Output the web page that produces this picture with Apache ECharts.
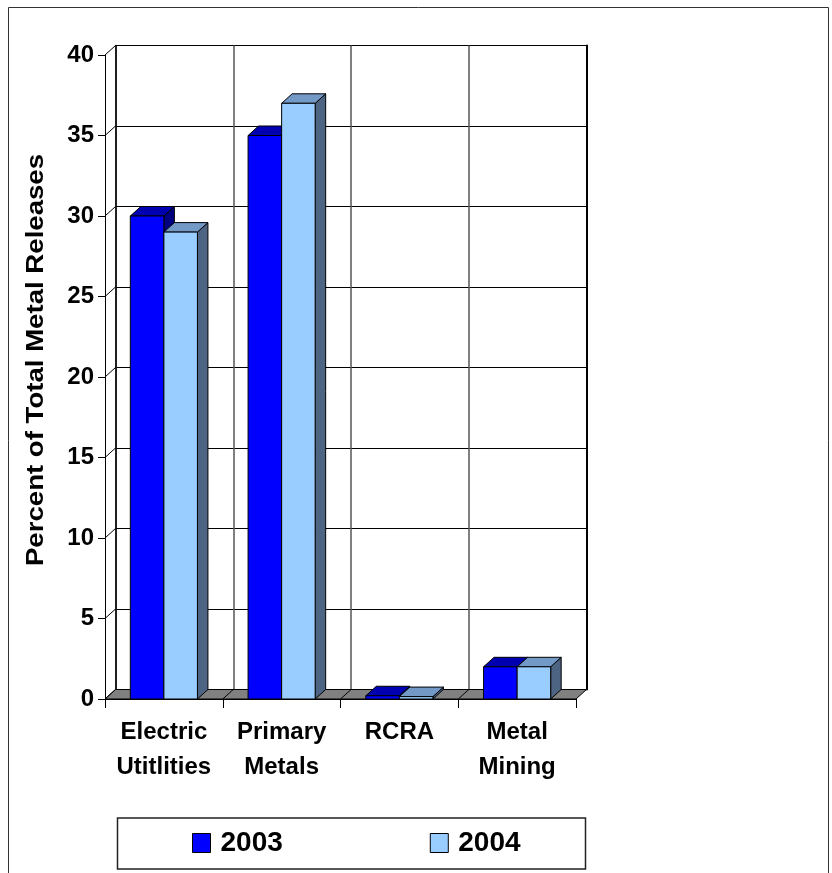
<!DOCTYPE html>
<html><head><meta charset="utf-8">
<script src="https://cdn.jsdelivr.net/npm/echarts@6/dist/echarts.min.js"></script>
<style>html,body{margin:0;padding:0;background:#fff}#c{width:832px;height:873px}</style>
</head><body><div id="c"></div>
<script>
// ---- data ----
const categories = ['Electric\nUtitlities', 'Primary\nMetals', 'RCRA', 'Metal\nMining'];
const years = ['2003', '2004'];
const values2003 = [30, 35, 0.2, 2];
const values2004 = [29, 37, 0.15, 2];
const yTickValues = [0, 5, 10, 15, 20, 25, 30, 35, 40];
const yMin = 0, yMax = 40, yStep = 5;
const yTitle = 'Percent of Total Metal Releases';

// ---- style ----
const FONT = '"Liberation Sans", Arial, sans-serif';
const DX = 10.5, DY = -9.5;
const BAR_FRAC = 0.285;
const palette = [
  { front: '#0000FF', top: '#0000B0', side: '#000080' },
  { front: '#99CCFF', top: '#7399C6', side: '#4D6482' }
];

function barRenderer(slot, pal) {
  return function (params, api) {
    const cat = api.value(0), val = api.value(1);
    const catW = api.size([1, 0])[0];
    const bw = catW * BAR_FRAC;
    const c = api.coord([cat, 0]);
    const t = api.coord([cat, val]);
    const x0 = c[0] + (slot === 0 ? -bw : 0);
    const x1 = x0 + bw;
    const yb = c[1], yt = t[1];
    const st = (f) => ({ fill: f, stroke: '#000', lineWidth: 1 });
    return {
      type: 'group', children: [
        { type: 'polygon', shape: { points: [[x1, yb], [x1 + DX, yb + DY], [x1 + DX, yt + DY], [x1, yt]] }, style: st(pal.side) },
        { type: 'polygon', shape: { points: [[x0, yt], [x1, yt], [x1 + DX, yt + DY], [x0 + DX, yt + DY]] }, style: st(pal.top) },
        { type: 'rect', shape: { x: x0, y: yt, width: bw, height: yb - yt }, style: st(pal.front) }
      ]
    };
  };
}

function floorRenderer(params, api) {
  const catW = api.size([1, 0])[0];
  const first = api.coord([0, 0]);
  const last = api.coord([categories.length - 1, 0]);
  const L = first[0] - catW / 2, R = last[0] + catW / 2, y = first[1];
  const children = [{
    type: 'polygon',
    shape: { points: [[L, y], [R, y], [R + DX, y + DY], [L + DX, y + DY]] },
    style: { fill: '#808080', stroke: '#000', lineWidth: 1 }
  }];
  for (let i = 1; i < categories.length; i++) {
    const x = L + catW * i;
    children.push({ type: 'line', shape: { x1: x, y1: y, x2: x + DX, y2: y + DY }, style: { stroke: '#000', lineWidth: 1 } });
  }
  return { type: 'group', children };
}

function sideRenderer(params, api) {
  const catW = api.size([1, 0])[0];
  const p = api.coord([0, api.value(1)]);
  const L = p[0] - catW / 2;
  return { type: 'line', shape: { x1: L, y1: p[1], x2: L + DX, y2: p[1] + DY }, style: { stroke: '#000', lineWidth: 1 } };
}

const chart = echarts.init(document.getElementById('c'), null, { renderer: 'canvas' });
const lblStyle = { fontFamily: FONT, fontWeight: 'bold', color: '#000' };

chart.setOption({
  animation: false,
  backgroundColor: '#fff',
  grid: [
    { left: 105, top: 55, width: 471, height: 644, outerBoundsMode: 'none' },
    { left: 115.5, top: 45.5, width: 471, height: 644, outerBoundsMode: 'none' }
  ],
  xAxis: [
    {
      type: 'category', gridIndex: 0, data: categories,
      axisLine: { show: true, lineStyle: { color: '#000', width: 1 } },
      axisTick: { show: true, length: 9, interval: 0, lineStyle: { color: '#000', width: 1 } },
      axisLabel: Object.assign({ fontSize: 24, lineHeight: 35, margin: 16, interval: 0 }, lblStyle),
      splitLine: { show: false }
    },
    {
      type: 'category', gridIndex: 1, data: categories,
      axisLine: { show: false }, axisTick: { show: false }, axisLabel: { show: false },
      splitLine: { show: true, interval: 0, lineStyle: { color: '#555', width: 1.5 } }
    }
  ],
  yAxis: [
    {
      type: 'value', gridIndex: 0, min: yMin, max: yMax, interval: yStep,
      axisLine: { show: true, lineStyle: { color: '#000', width: 1 } },
      axisTick: { show: true, length: 7, lineStyle: { color: '#000', width: 1 } },
      axisLabel: Object.assign({ fontSize: 24, margin: 11 }, lblStyle),
      splitLine: { show: false }
    },
    {
      type: 'value', gridIndex: 1, min: yMin, max: yMax, interval: yStep,
      axisLine: { show: true, lineStyle: { color: '#000', width: 1.5 } },
      axisTick: { show: false }, axisLabel: { show: false },
      splitLine: { show: true, lineStyle: { color: '#000', width: 1 } }
    },
    {
      type: 'value', gridIndex: 1, position: 'right', min: yMin, max: yMax, interval: yStep,
      axisLine: { show: true, lineStyle: { color: '#000', width: 2 } },
      axisTick: { show: false }, axisLabel: { show: false }, splitLine: { show: false }
    }
  ],
  legend: {
    data: years, left: 192, top: 829, padding: 0,
    icon: 'rect', itemWidth: 18, itemHeight: 19, itemGap: 147,
    itemStyle: { borderColor: '#000', borderWidth: 1 },
    textStyle: { fontFamily: FONT, fontWeight: 'bold', fontSize: 28, color: '#000', padding: [0, 0, 0, 5] },
    selectedMode: false
  },
  graphic: [
    { type: 'rect', shape: { x: 8.5, y: 7.5, width: 820, height: 900 }, style: { fill: null, stroke: '#333', lineWidth: 1 }, silent: true },
    { type: 'rect', shape: { x: 117.5, y: 818, width: 468, height: 51 }, style: { fill: null, stroke: '#222', lineWidth: 1.5 }, silent: true },
    {
      type: 'text', x: 36, y: 360, rotation: Math.PI / 2, scaleX: 1.15,
      style: { text: yTitle, font: 'bold 24px ' + FONT, fill: '#000', align: 'center', verticalAlign: 'middle' }
    }
  ],
  series: [
    {
      type: 'custom', name: 'floor', xAxisIndex: 0, yAxisIndex: 0, z: 1,
      data: [[0, 0]], renderItem: floorRenderer, silent: true
    },
    {
      type: 'custom', name: 'side', xAxisIndex: 0, yAxisIndex: 0, z: 1,
      data: yTickValues.map(v => [0, v]), renderItem: sideRenderer, silent: true
    },
    {
      type: 'custom', name: years[0], xAxisIndex: 0, yAxisIndex: 0, z: 3,
      itemStyle: { color: palette[0].front, borderColor: '#000' },
      data: values2003.map((v, i) => [i, v]), encode: { x: 0, y: 1 },
      renderItem: barRenderer(0, palette[0])
    },
    {
      type: 'custom', name: years[1], xAxisIndex: 0, yAxisIndex: 0, z: 4,
      itemStyle: { color: palette[1].front, borderColor: '#000' },
      data: values2004.map((v, i) => [i, v]), encode: { x: 0, y: 1 },
      renderItem: barRenderer(1, palette[1])
    }
  ]
});
</script></body></html>
